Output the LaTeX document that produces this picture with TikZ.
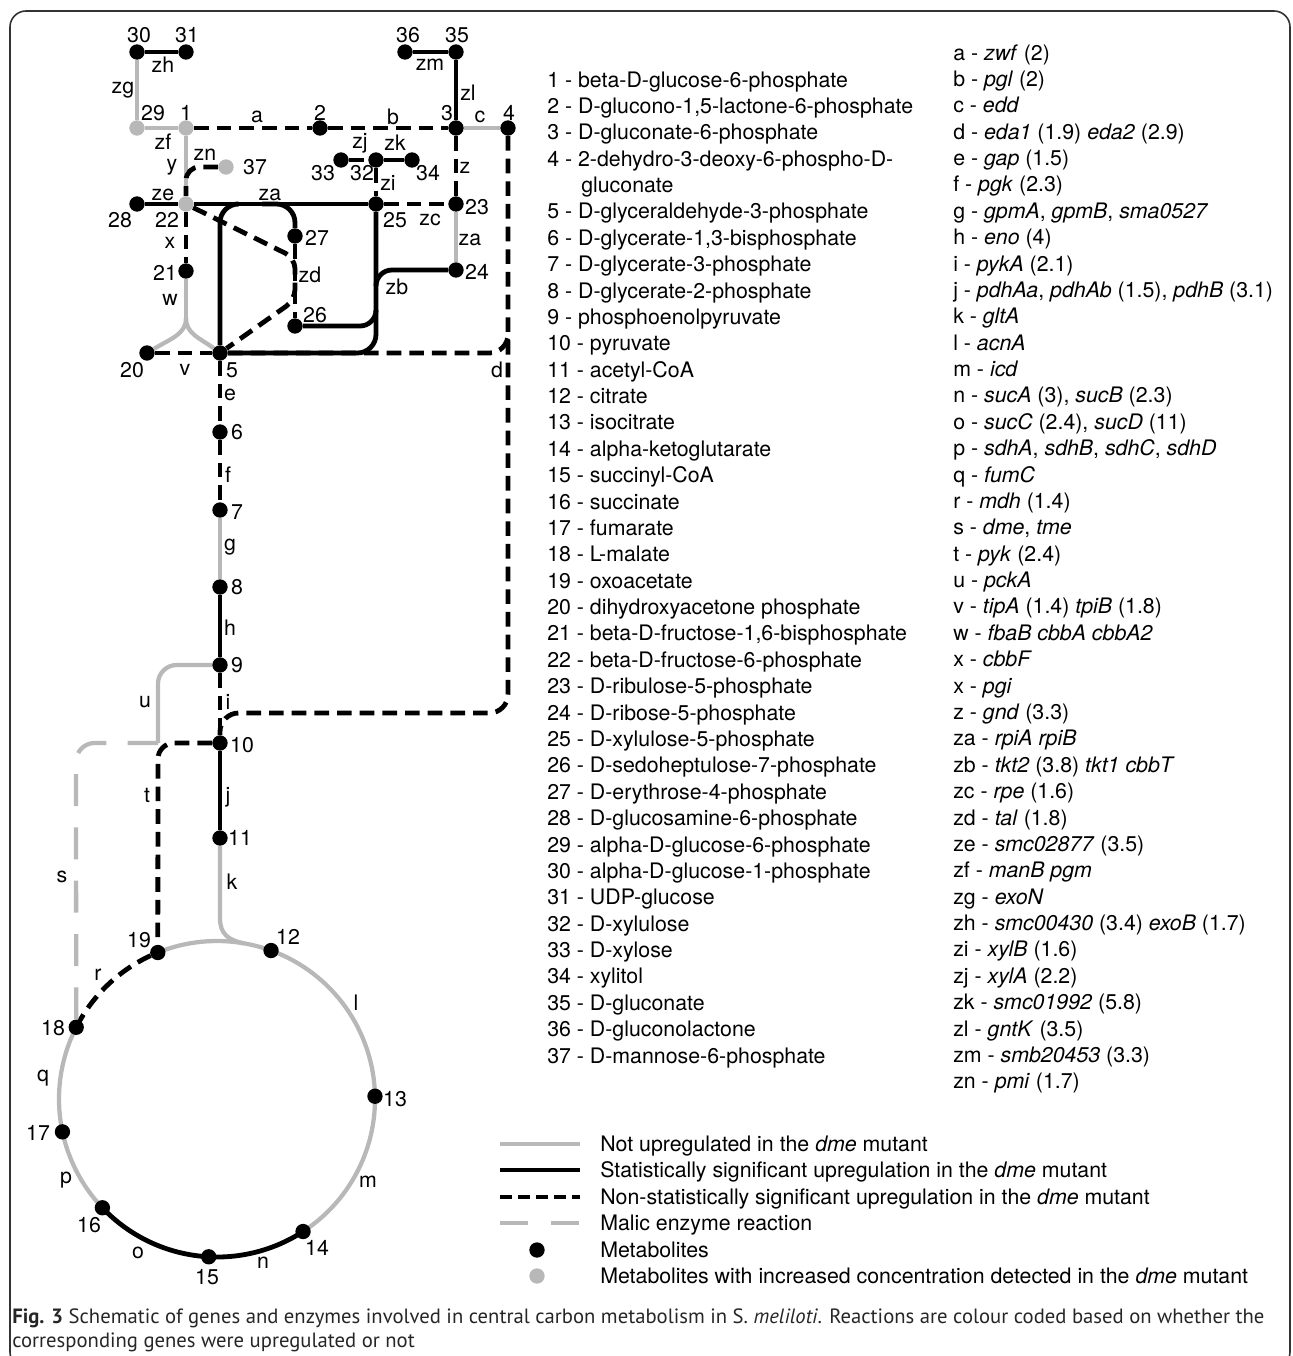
\documentclass[tikz,border=0pt]{standalone}
\usepackage{fontspec}
\setmainfont{TeX Gyre Heros}
\newfontfamily\capfont{PT Sans}
\definecolor{lg}{gray}{0.72}
\definecolor{capc}{gray}{0.15}
\pgfdeclarelayer{bg}
\pgfsetlayers{bg,main}
\begin{document}
\begin{tikzpicture}[x=0.75pt,y=-0.75pt,
  gl/.style={draw=lg, line width=3.2pt},
  bl/.style={draw=black, line width=3.6pt},
  dl/.style={draw=black, line width=3.6pt, dash pattern=on 11pt off 6pt},
  ml/.style={draw=lg, line width=3.2pt, dash pattern=on 24pt off 16pt},
  met/.style={circle, fill=black, inner sep=0pt, minimum size=11.5pt},
  gmet/.style={met, fill=lg},
  lab/.style={inner sep=0pt, font=\fontsize{16}{19}\selectfont},
  lst/.style={inner sep=0pt, anchor=base west, font=\fontsize{16}{19}\selectfont},
  captxt/.style={inner sep=0pt, anchor=base west, text=capc, font=\capfont\fontsize{15.5}{18}\selectfont},
]
\useasboundingbox (0,0) rectangle (1292,1356);
\begin{scope}
\clip (0,0) rectangle (1292,1356);
\draw[line width=1.2pt, draw=black!80, rounded corners=12pt] (10,11) rectangle (1290,1368);
\end{scope}

% ---------- metabolites (top network and vertical chain)
\node[met]  (n30) at (137,52) {};
\node[met]  (n31) at (186,52) {};
\node[gmet] (n29) at (137,128) {};
\node[gmet] (n1)  at (186,128) {};
\node[met]  (n2)  at (320,128) {};
\node[met]  (n3)  at (456,128) {};
\node[met]  (n4)  at (508,128) {};
\node[met]  (n36) at (405,52) {};
\node[met]  (n35) at (456,52) {};
\node[gmet] (n37) at (226,167) {};
\node[met]  (n33) at (341,160) {};
\node[met]  (n32) at (376,160) {};
\node[met]  (n34) at (412,160) {};
\node[met]  (n28) at (137,204) {};
\node[gmet] (n22) at (186,204) {};
\node[met]  (n25) at (376,204) {};
\node[met]  (n23) at (456,204) {};
\node[met]  (n27) at (295,236) {};
\node[met]  (n26) at (295,326) {};
\node[met]  (n24) at (456,270) {};
\node[met]  (n21) at (186,271) {};
\node[met]  (n20) at (147,353) {};
\node[met]  (n5)  at (220,353) {};
\node[met]  (n6)  at (220,432) {};
\node[met]  (n7)  at (220,510) {};
\node[met]  (n8)  at (220,587) {};
\node[met]  (n9)  at (220,665) {};
\node[met]  (n10) at (220,743) {};
\node[met]  (n11) at (220,838) {};

\coordinate (zaA) at (236,204);
\coordinate (zaB) at (262,204);
\coordinate (zbA) at (376,312);
\coordinate (zbB) at (376,286);
\coordinate (dA)  at (508,338);
\coordinate (wA)  at (186,318);
\coordinate (kA)  at (244,943.4);

% ---------- TCA cycle
\begin{scope}[shift={(162.75pt,-824.25pt)}, x=0.75pt, y=0.75pt]
\node[met] (n12) at (70:158) {};
\node[met] (n13) at (1:158) {};
\node[met] (n14) at (-57:158) {};
\node[met] (n15) at (-93:158) {};
\node[met] (n16) at (-136.5:158) {};
\node[met] (n17) at (-168:158) {};
\node[met] (n18) at (153:158) {};
\node[met] (n19) at (112:158) {};
\begin{pgfonlayer}{bg}
\draw[gl] (n19.center) arc[start angle=112, end angle=70, radius=158];
\draw[gl] (n12.center) arc[start angle=70, end angle=1, radius=158];
\draw[gl] (n13.center) arc[start angle=1, end angle=-57, radius=158];
\draw[bl] (n14.center) arc[start angle=-57, end angle=-93, radius=158];
\draw[bl] (n15.center) arc[start angle=-93, end angle=-136.5, radius=158];
\draw[gl] (n16.center) arc[start angle=-136.5, end angle=-168, radius=158];
\draw[gl] (n17.center) arc[start angle=-168, end angle=-207, radius=158];
\draw[dl] (n18.center) arc[start angle=153, end angle=112, radius=158];
\end{pgfonlayer}
\end{scope}

% ---------- connectors
\begin{pgfonlayer}{bg}
% grey
\draw[gl] (n30) -- (n29);
\draw[gl] (n29) -- (n1);
\draw[gl] (n3) -- (n4);
\draw[gl] (n1) -- (n22);
\draw[gl] (n23) -- (n24);
\draw[gl] (n21) -- (wA);
\draw[gl] (wA) .. controls (186,334) and (172,338) .. (n20);
\draw[gl] (wA) .. controls (186,334) and (200,338) .. (n5);
\draw[gl] (n7) -- (n8);
\draw[gl, rounded corners=14] (n9) -- (158,665) -- (158,743);
\draw[gl] (n11) -- (220,918) .. controls (220,934) and (228,940) .. (kA);
\draw[ml, rounded corners=14] (n18) -- (76,743) -- (158,743);
% dashed
\draw[dl] (n1) -- (n2);
\draw[dl] (n2) -- (n3);
\draw[dl] (n3) -- (n23);
\draw[dl, rounded corners=10] (n37) -- (186,167) -- (n22);
\draw[dl] (n25) -- (n23);
\draw[dl] (n32) -- (n25);
\draw[dl] (n33) -- (n32);
\draw[dl] (n22) -- (n21);
\draw[dl] (n20) -- (n5);
\draw[dl] (n27) -- (n26);
\draw[dl, rounded corners=8] (n22) -- (295,258) -- (295,300) -- (n5);
\draw[dl, rounded corners=14] (n4) -- (508,713) -- (220,713) -- (n10);
\draw[dl, rounded corners=14] (n5) -- (508,353) -- (dA);
\draw[dl] (n5) -- (n6);
\draw[dl] (n6) -- (n7);
\draw[dl] (n9) -- (n10);
\draw[dl, rounded corners=12] (n10) -- (158,743) -- (n19);
% solid
\draw[bl] (n30) -- (n31);
\draw[bl] (n36) -- (n35);
\draw[bl] (n35) -- (n3);
\draw[bl] (n28) -- (n22);
\draw[bl] (n22) -- (n25);
\draw[bl] (n32) -- (n34);
\draw[bl, rounded corners=14] (n5) -- (220,204) -- (zaA);
\draw[bl, rounded corners=14] (zaB) -- (295,204) -- (n27);
\draw[bl, rounded corners=14] (n5) -- (376,353) -- (n25);
\draw[bl, rounded corners=12] (n26) -- (376,326) -- (zbA);
\draw[bl, rounded corners=12] (zbB) -- (376,270) -- (n24);
\draw[bl] (n8) -- (n9);
\draw[bl] (n10) -- (n11);
\end{pgfonlayer}

% ---------- reaction labels
\foreach \x/\y/\t [count=\i] in {163/65/zh, 123/90/zg, 257/117/a, 393/117/b, 480/117/c,
  430/65/zm, 468/93/zl, 163/142/zf, 172/167/y, 205/155/zn, 360/143/zj, 395/143/zk,
  388/183/zi, 465/168/z, 163/195/ze, 270/195/za, 430/220/zc, 470/240/za, 170/243/x,
  310/275/zd, 397/287/zb, 170/300/w, 185/370/v, 497/370/d, 230/395/e, 228/475/f,
  230/547/g, 230/628/h, 228/702/i, 145/702/u, 147/795/t, 228/797/j, 232/882/k,
  62/877/s, 98/975/r, 356/1003/l, 43/1078/q, 368/1182/m, 66/1180/p, 138/1253/o, 263/1263/n}
  \node[lab] (rl\i) at (\x,\y) {\t};

% ---------- metabolite number labels
\foreach \x/\y/\t [count=\i] in {139/35/30, 187/35/31, 153/113/29, 186/113/1, 320/113/2,
  447/113/3, 509/113/4, 408/35/36, 457/35/35, 255/167/37, 323/173/33, 362/173/32,
  428/173/34, 120/220/28, 167/220/22, 395/220/25, 477/207/23, 317/238/27, 315/315/26,
  477/272/24, 165/273/21, 132/370/20, 232/370/5, 237/432/6, 237/512/7, 237/587/8,
  237/665/9, 242/745/10, 240/838/11, 139/940/19, 288/937/12, 53/1028/18, 395/1099/13,
  38/1133/17, 89/1225/16, 317/1248/14, 207/1277/15}
  \node[lab] (nl\i) at (\x,\y) {\t};

% ---------- metabolite list
\foreach \t [count=\i from 0] in {
  {1 - beta-D-glucose-6-phosphate},
  {2 - D-glucono-1,5-lactone-6-phosphate},
  {3 - D-gluconate-6-phosphate},
  {4 - 2-dehydro-3-deoxy-6-phospho-D-},
  {\hspace*{25.5pt}gluconate},
  {5 - D-glyceraldehyde-3-phosphate},
  {6 - D-glycerate-1,3-bisphosphate},
  {7 - D-glycerate-3-phosphate},
  {8 - D-glycerate-2-phosphate},
  {9 - phosphoenolpyruvate},
  {10 - pyruvate},
  {11 - acetyl-CoA},
  {12 - citrate},
  {13 - isocitrate},
  {14 - alpha-ketoglutarate},
  {15 - succinyl-CoA},
  {16 - succinate},
  {17 - fumarate},
  {18 - L-malate},
  {19 - oxoacetate},
  {20 - dihydroxyacetone phosphate},
  {21 - beta-D-fructose-1,6-bisphosphate},
  {22 - beta-D-fructose-6-phosphate},
  {23 - D-ribulose-5-phosphate},
  {24 - D-ribose-5-phosphate},
  {25 - D-xylulose-5-phosphate},
  {26 - D-sedoheptulose-7-phosphate},
  {27 - D-erythrose-4-phosphate},
  {28 - D-glucosamine-6-phosphate},
  {29 - alpha-D-glucose-6-phosphate},
  {30 - alpha-D-glucose-1-phosphate},
  {31 - UDP-glucose},
  {32 - D-xylulose},
  {33 - D-xylose},
  {34 - xylitol},
  {35 - D-gluconate},
  {36 - D-gluconolactone},
  {37 - D-mannose-6-phosphate}}
  \node[lst] (ml\i) at (547,{87+26.38*\i}) {\t};

% ---------- gene list
\foreach \t [count=\i from 0] in {
  {a - \textit{zwf} (2)},
  {b - \textit{pgl} (2)},
  {c - \textit{edd}},
  {d - \textit{eda1} (1.9) \textit{eda2} (2.9)},
  {e - \textit{gap} (1.5)},
  {f - \textit{pgk} (2.3)},
  {g - \textit{gpmA}, \textit{gpmB}, \textit{sma0527}},
  {h - \textit{eno} (4)},
  {i - \textit{pykA} (2.1)},
  {j - \textit{pdhAa}, \textit{pdhAb} (1.5), \textit{pdhB} (3.1)},
  {k - \textit{gltA}},
  {l - \textit{acnA}},
  {m - \textit{icd}},
  {n - \textit{sucA} (3), \textit{sucB} (2.3)},
  {o - \textit{sucC} (2.4), \textit{sucD} (11)},
  {p - \textit{sdhA}, \textit{sdhB}, \textit{sdhC}, \textit{sdhD}},
  {q - \textit{fumC}},
  {r - \textit{mdh} (1.4)},
  {s - \textit{dme}, \textit{tme}},
  {t - \textit{pyk} (2.4)},
  {u - \textit{pckA}},
  {v - \textit{tipA} (1.4) \textit{tpiB} (1.8)},
  {w - \textit{fbaB cbbA cbbA2}},
  {x - \textit{cbbF}},
  {x - \textit{pgi}},
  {z - \textit{gnd} (3.3)},
  {za - \textit{rpiA rpiB}},
  {zb - \textit{tkt2} (3.8) \textit{tkt1 cbbT}},
  {zc - \textit{rpe} (1.6)},
  {zd - \textit{tal} (1.8)},
  {ze - \textit{smc02877} (3.5)},
  {zf - \textit{manB pgm}},
  {zg - \textit{exoN}},
  {zh - \textit{smc00430} (3.4) \textit{exoB} (1.7)},
  {zi - \textit{xylB} (1.6)},
  {zj - \textit{xylA} (2.2)},
  {zk - \textit{smc01992} (5.8)},
  {zl - \textit{gntK} (3.5)},
  {zm - \textit{smb20453} (3.3)},
  {zn - \textit{pmi} (1.7)}}
  \node[lst] (gl\i) at (953,{60+26.38*\i}) {\t};

% ---------- legend
\coordinate (L1a) at (500,1144); \coordinate (L1b) at (580,1144);
\coordinate (L2a) at (500,1170); \coordinate (L2b) at (580,1170);
\coordinate (L3a) at (500,1197); \coordinate (L3b) at (580,1197);
\coordinate (L4a) at (500,1223); \coordinate (L4b) at (580,1223);
\draw[gl] (L1a) -- (L1b);
\draw[bl] (L2a) -- (L2b);
\draw[black, line width=3.6pt, dash pattern=on 9pt off 4.5pt] (L3a) -- (L3b);
\draw[draw=lg, line width=3.2pt, dash pattern=on 21pt off 17pt] (L4a) -- (L4b);
\node[met]  (L5) at (537,1250) {};
\node[gmet] (L6) at (537,1276) {};
\foreach \y/\t [count=\i] in {1144/{Not upregulated in the \textit{dme} mutant},
  1170/{Statistically significant upregulation in the \textit{dme} mutant},
  1197/{Non-statistically significant upregulation in the \textit{dme} mutant},
  1223/{Malic enzyme reaction},
  1250/{Metabolites},
  1276/{Metabolites with increased concentration detected in the \textit{dme} mutant}}
  \node[lst] (lt\i) at (600,{\y+7}) {\t};

% ---------- caption
\node[captxt] (cap1) at (12,1323) {\textbf{Fig. 3} Schematic of genes and enzymes involved in central carbon metabolism in S. \textit{meliloti}. Reactions are colour coded based on whether the};
\node[captxt] (cap2) at (12,1347) {corresponding genes were upregulated or not};
\end{tikzpicture}
\end{document}
